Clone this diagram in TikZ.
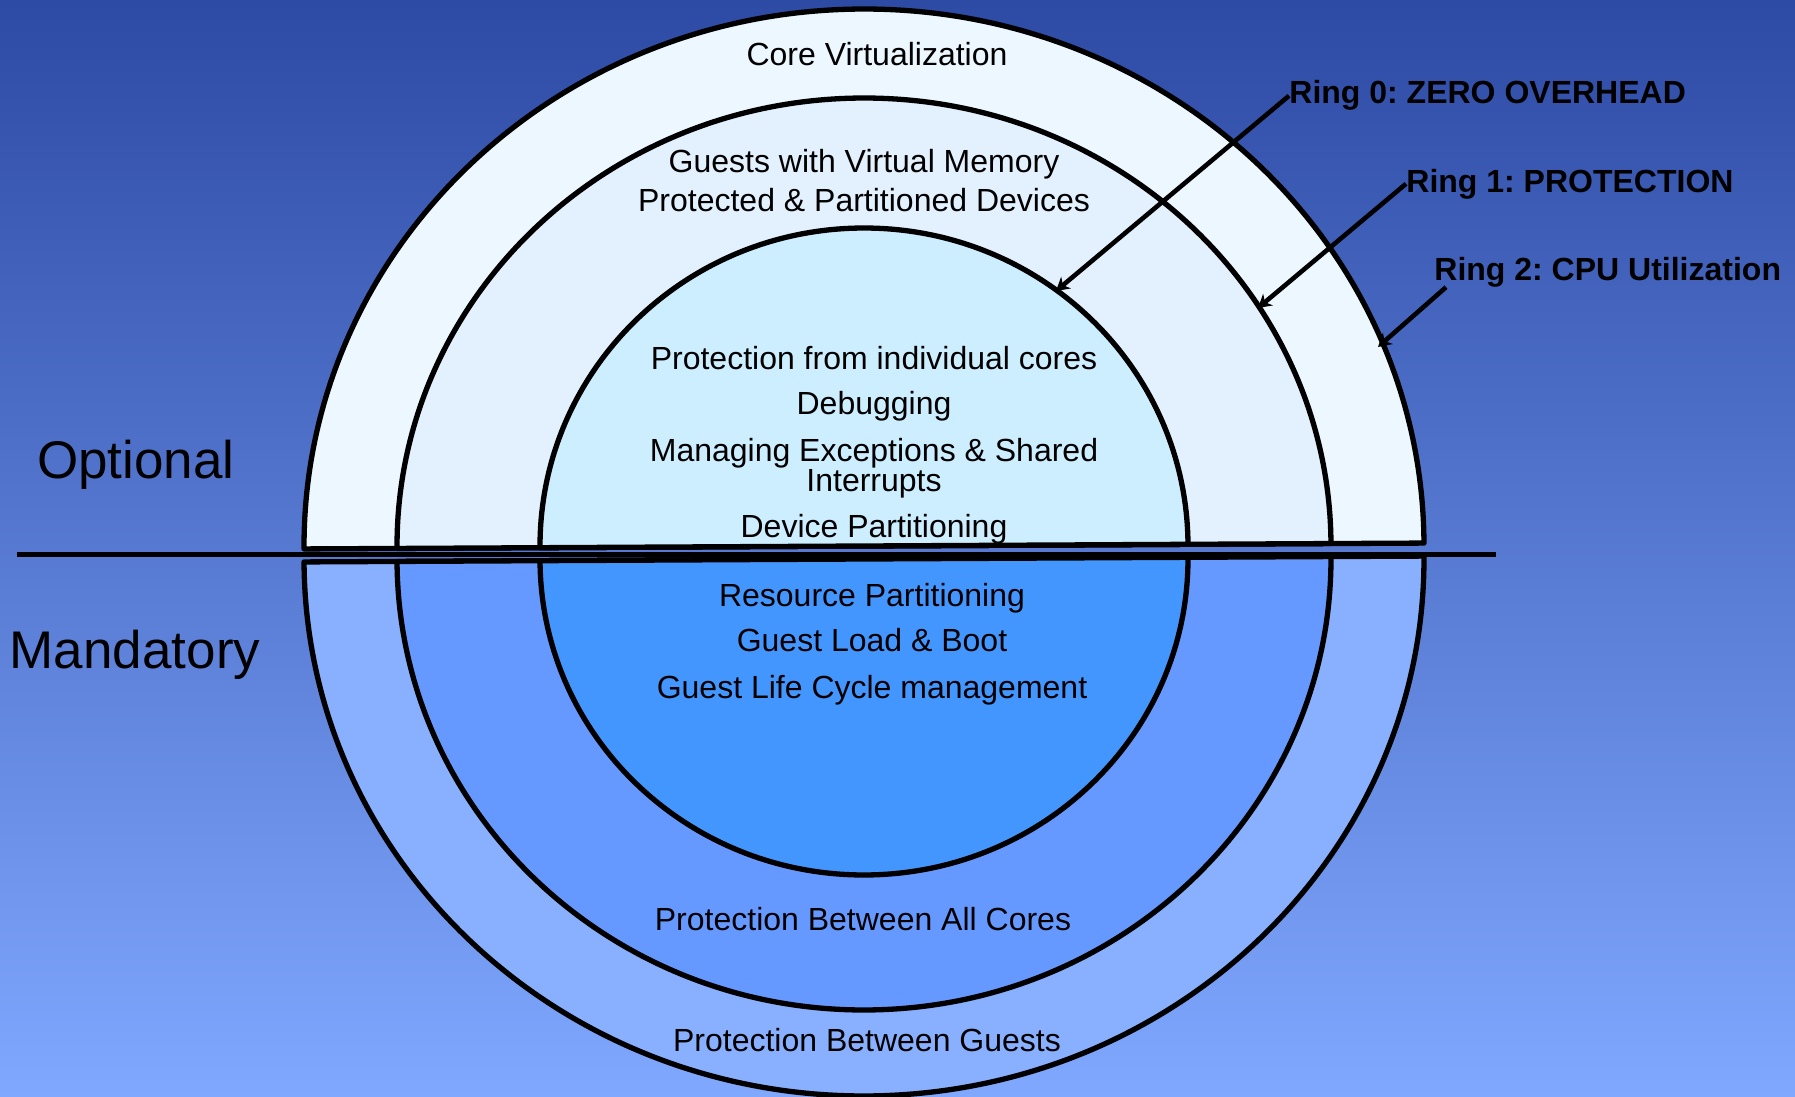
\documentclass[tikz,border=0pt]{standalone}
\usepackage{fontspec}
\setmainfont{Liberation Sans}
\usetikzlibrary{arrows.meta}
\definecolor{bgtop}{RGB}{45,74,164}
\definecolor{bgbot}{RGB}{128,168,255}
\definecolor{optout}{RGB}{236,247,255}
\definecolor{optmid}{RGB}{227,240,253}
\definecolor{optin}{RGB}{205,238,255}
\definecolor{manout}{RGB}{136,176,255}
\definecolor{manmid}{RGB}{102,153,255}
\definecolor{manin}{RGB}{68,150,255}
\tikzset{
  ring/.style={draw=black, line width=2.65pt},
  txt/.style={anchor=base, inner sep=0pt},
  side/.style={anchor=base, inner sep=0pt, font=\fontsize{26.5}{30}\selectfont},
  ringlbl/.style={anchor=base west, inner sep=0pt, font=\fontsize{16}{19}\selectfont\bfseries},
  pointer/.style={->, line width=2.3pt}
}
\frenchspacing
\begin{document}
\begin{tikzpicture}[x=0.5pt, y=-0.5pt, line join=round, font=\fontsize{16}{19}\selectfont, >={Stealth[length=6.5pt,width=7.5pt,inset=2pt]}]
	\def\cx{864} \def\ra{560} \def\rb{467} \def\rc{324} % half widths
	\def\yo{546} \def\ym{559} % chords, optional / mandatory
	\useasboundingbox (0,0) rectangle (1795,1097);
	\shade[top color=bgtop, bottom color=bgbot] (0,0) rectangle (1795,1097);
	% mandatory halves
	\begin{scope}[rotate around={0.3:(\cx,\ym)}]
		\filldraw[ring, fill=manout] (\cx+\ra,\ym) arc[start angle=0, end angle=180, x radius=\ra, y radius=537] -- cycle;
		\filldraw[ring, fill=manmid] (\cx+\rb,\ym) arc[start angle=0, end angle=180, x radius=\rb, y radius=451] -- cycle;
		\filldraw[ring, fill=manin] (\cx+\rc,\ym) arc[start angle=0, end angle=180, x radius=\rc, y radius=316] -- cycle;
	\end{scope}
	% optional halves
	\begin{scope}[rotate around={0.3:(\cx,\yo)}]
		\filldraw[ring, fill=optout] (\cx-\ra,\yo) arc[start angle=180, end angle=360, x radius=\ra, y radius=537] -- cycle;
		\filldraw[ring, fill=optmid] (\cx-\rb,\yo) arc[start angle=180, end angle=360, x radius=\rb, y radius=448] -- cycle;
		\filldraw[ring, fill=optin] (\cx-\rc,\yo) arc[start angle=180, end angle=360, x radius=\rc, y radius=318] -- cycle;
	\end{scope}
	\draw[line width=2.85pt] (17,554.5) -- (1496,554.5);
	
	\node[side] (opt) at (136,478) {Optional};
	\node[side] (man) at (135,668) {Mandatory};
	
	\node[txt] (core) at (877,66) {Core Virtualization};
	\node[txt] (gvm) at (864,173) {Guests with Virtual Memory};
	\node[txt] (ppd) at (864,212) {Protected \& Partitioned Devices};
	\node[txt] (pic) at (874,369) {Protection from individual cores};
	\node[txt] (dbg) at (874,414) {Debugging};
	\node[txt] (mex) at (874,461) {Managing Exceptions \& Shared};
	\node[txt] (irq) at (874,491) {Interrupts};
	\node[txt] (dpt) at (874,537) {Device Partitioning};
	\node[txt] (rpt) at (872,606) {Resource Partitioning};
	\node[txt] (glb) at (872,651) {Guest Load \& Boot};
	\node[txt] (glc) at (872,698) {Guest Life Cycle management};
	\node[txt] (pbc) at (863,930) {Protection Between All Cores};
	\node[txt] (pbg) at (867,1051) {Protection Between Guests};
	
	\node[ringlbl] (r0) at (1289,104) {Ring 0: ZERO OVERHEAD};
	\node[ringlbl] (r1) at (1406,192) {Ring 1: PROTECTION};
	\node[ringlbl] (r2) at (1434,280) {Ring 2: CPU Utilization};
	\coordinate (p0) at (1056,291);
	\coordinate (p1) at (1258,308);
	\coordinate (p2) at (1378,347);
	\draw[pointer] (r0.west) -- (p0);
	\draw[pointer] (r1.west) -- (p1);
	\draw[pointer] ([xshift=6pt]r2.south west) -- (p2);
\end{tikzpicture}
\end{document}
